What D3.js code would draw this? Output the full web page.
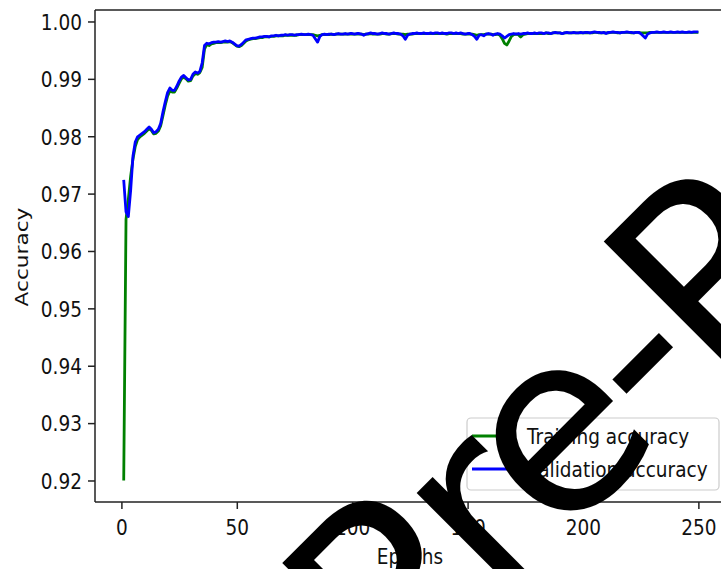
<!DOCTYPE html>
<html>
<head>
<meta charset="utf-8">
<script src="https://cdn.jsdelivr.net/npm/d3@7"></script>
<style>
  html, body { margin: 0; padding: 0; background: #fff; }
  svg { display: block; }
  text { font-family: "DejaVu Sans", sans-serif; }
</style>
</head>
<body>
<svg id="chart" width="721" height="569"></svg>
<script>
// ---------------- DATA ----------------
const xTicks = [0, 50, 100, 150, 200, 250];
const yTicks = [0.92, 0.93, 0.94, 0.95, 0.96, 0.97, 0.98, 0.99, 1.00];
const seriesNames = ["Training accuracy", "Validation accuracy"];
const xLabel = "Epochs";
const yLabel = "Accuracy";
const watermark = "Pre-Print";

// epochs 1..250
const trainAcc = [
  0.9200, 0.9655, 0.9690, 0.9730, 0.9760, 0.9782, 0.9794, 0.9799, 0.9802, 0.9805,
  0.9809, 0.9813, 0.9810, 0.9804, 0.9805, 0.9809, 0.9818, 0.9836, 0.9854, 0.9870,
  0.9879, 0.9877, 0.9877, 0.9884, 0.9892, 0.9900, 0.9903, 0.9900, 0.9896, 0.9897,
  0.9905, 0.9909, 0.9908, 0.9911, 0.9920, 0.9952, 0.9960, 0.9958, 0.9961, 0.9962,
  0.9963, 0.9963, 0.9963, 0.9964, 0.9964, 0.9964, 0.9965, 0.9963, 0.9960, 0.9957,
  0.9956, 0.9958, 0.9962, 0.9966, 0.9968, 0.9969, 0.9970, 0.9970, 0.9971, 0.9972,
  0.9972, 0.9973, 0.9973, 0.9973, 0.9974, 0.9974, 0.9975, 0.9975, 0.9975, 0.9975,
  0.9976, 0.9976, 0.9976, 0.9976, 0.9976, 0.9976, 0.9977, 0.9977, 0.9977, 0.9977,
  0.9977, 0.9977, 0.9977, 0.9976, 0.9975, 0.9976, 0.9977, 0.9977, 0.9977, 0.9977,
  0.9978, 0.9977, 0.9978, 0.9978, 0.9978, 0.9978, 0.9978, 0.9978, 0.9978, 0.9978,
  0.9978, 0.9978, 0.9978, 0.9978, 0.9977, 0.9978, 0.9978, 0.9979, 0.9978, 0.9978,
  0.9978, 0.9978, 0.9979, 0.9979, 0.9978, 0.9978, 0.9979, 0.9979, 0.9979, 0.9978,
  0.9978, 0.9978, 0.9977, 0.9978, 0.9978, 0.9978, 0.9979, 0.9979, 0.9979, 0.9979,
  0.9979, 0.9979, 0.9979, 0.9979, 0.9979, 0.9979, 0.9979, 0.9979, 0.9979, 0.9979,
  0.9978, 0.9979, 0.9979, 0.9979, 0.9979, 0.9979, 0.9979, 0.9978, 0.9978, 0.9978,
  0.9978, 0.9978, 0.9977, 0.9976, 0.9977, 0.9977, 0.9977, 0.9978, 0.9978, 0.9978,
  0.9977, 0.9977, 0.9978, 0.9976, 0.9970, 0.9962, 0.9959, 0.9966, 0.9974, 0.9977,
  0.9978, 0.9977, 0.9973, 0.9977, 0.9978, 0.9979, 0.9979, 0.9979, 0.9979, 0.9979,
  0.9979, 0.9979, 0.9979, 0.9980, 0.9979, 0.9979, 0.9980, 0.9980, 0.9980, 0.9980,
  0.9979, 0.9980, 0.9980, 0.9980, 0.9980, 0.9980, 0.9980, 0.9980, 0.9980, 0.9980,
  0.9980, 0.9980, 0.9980, 0.9980, 0.9981, 0.9981, 0.9980, 0.9980, 0.9980, 0.9980,
  0.9980, 0.9981, 0.9981, 0.9981, 0.9980, 0.9980, 0.9981, 0.9981, 0.9981, 0.9981,
  0.9980, 0.9980, 0.9981, 0.9981, 0.9980, 0.9980, 0.9980, 0.9980, 0.9981, 0.9981,
  0.9981, 0.9981, 0.9981, 0.9981, 0.9981, 0.9981, 0.9981, 0.9981, 0.9981, 0.9981,
  0.9981, 0.9981, 0.9981, 0.9981, 0.9981, 0.9981, 0.9981, 0.9981, 0.9981, 0.9981
];

const valAcc = [
  0.9724, 0.9668, 0.9660, 0.9705, 0.9765, 0.9790, 0.9799, 0.9802, 0.9805, 0.9808,
  0.9812, 0.9816, 0.9812, 0.9806, 0.9808, 0.9812, 0.9822, 0.9842, 0.9860, 0.9876,
  0.9884, 0.9880, 0.9880, 0.9887, 0.9896, 0.9903, 0.9906, 0.9902, 0.9898, 0.9899,
  0.9908, 0.9912, 0.9910, 0.9913, 0.9928, 0.9958, 0.9962, 0.9961, 0.9963, 0.9964,
  0.9964, 0.9965, 0.9964, 0.9965, 0.9966, 0.9965, 0.9966, 0.9964, 0.9961, 0.9958,
  0.9957, 0.9960, 0.9964, 0.9968, 0.9969, 0.9970, 0.9971, 0.9971, 0.9972, 0.9973,
  0.9973, 0.9974, 0.9974, 0.9973, 0.9975, 0.9975, 0.9976, 0.9975, 0.9976, 0.9976,
  0.9977, 0.9976, 0.9977, 0.9977, 0.9976, 0.9977, 0.9977, 0.9978, 0.9977, 0.9977,
  0.9978, 0.9977, 0.9976, 0.9970, 0.9964, 0.9974, 0.9977, 0.9978, 0.9977, 0.9978,
  0.9978, 0.9977, 0.9978, 0.9979, 0.9978, 0.9978, 0.9979, 0.9978, 0.9979, 0.9979,
  0.9978, 0.9979, 0.9979, 0.9978, 0.9976, 0.9978, 0.9979, 0.9980, 0.9979, 0.9979,
  0.9978, 0.9979, 0.9980, 0.9979, 0.9979, 0.9978, 0.9979, 0.9980, 0.9979, 0.9979,
  0.9978, 0.9975, 0.9969, 0.9976, 0.9978, 0.9979, 0.9979, 0.9980, 0.9979, 0.9979,
  0.9980, 0.9979, 0.9979, 0.9980, 0.9979, 0.9980, 0.9980, 0.9979, 0.9980, 0.9979,
  0.9979, 0.9980, 0.9980, 0.9979, 0.9980, 0.9979, 0.9980, 0.9979, 0.9978, 0.9979,
  0.9979, 0.9977, 0.9974, 0.9969, 0.9976, 0.9977, 0.9975, 0.9978, 0.9979, 0.9978,
  0.9976, 0.9978, 0.9979, 0.9978, 0.9975, 0.9971, 0.9974, 0.9977, 0.9978, 0.9979,
  0.9978, 0.9979, 0.9978, 0.9979, 0.9979, 0.9980, 0.9979, 0.9979, 0.9980, 0.9979,
  0.9980, 0.9980, 0.9979, 0.9980, 0.9980, 0.9979, 0.9980, 0.9981, 0.9980, 0.9980,
  0.9979, 0.9980, 0.9981, 0.9980, 0.9980, 0.9981, 0.9980, 0.9980, 0.9981, 0.9980,
  0.9981, 0.9981, 0.9980, 0.9981, 0.9982, 0.9981, 0.9981, 0.9980, 0.9981, 0.9979,
  0.9981, 0.9981, 0.9982, 0.9981, 0.9981, 0.9980, 0.9981, 0.9981, 0.9982, 0.9981,
  0.9981, 0.9980, 0.9981, 0.9981, 0.9979, 0.9975, 0.9971, 0.9978, 0.9980, 0.9981,
  0.9981, 0.9982, 0.9981, 0.9981, 0.9982, 0.9981, 0.9981, 0.9982, 0.9981, 0.9981,
  0.9982, 0.9981, 0.9982, 0.9981, 0.9981, 0.9982, 0.9981, 0.9982, 0.9982, 0.9982
];

const colors = ["#008000", "#0000ff"];

// ---------------- LAYOUT ----------------
const W = 721, H = 569;
const plot = { left: 95, right: 727, top: 10, bottom: 502 };
const FS = 18.5;       // font size
const VS = 1.17;       // vertical stretch of the source image

const svg = d3.select("#chart");
svg.append("rect").attr("width", W).attr("height", H).attr("fill", "#fff");

const x = d3.scaleLinear().domain([-11.44, 262.4]).range([plot.left, plot.right]);
const y = d3.scaleLinear().domain([0.91625, 1.0020]).range([plot.bottom, plot.top]);

const epochs = trainAcc.map((_, i) => i + 1);

// ---------- lines ----------
const lineGen = d3.line().x(d => x(d[0])).y(d => y(d[1]));
[trainAcc, valAcc].forEach((vals, k) => {
  svg.append("path")
    .datum(epochs.map((e, i) => [e, vals[i]]))
    .attr("d", lineGen)
    .attr("fill", "none")
    .attr("stroke", colors[k])
    .attr("stroke-width", 2.8)
    .attr("stroke-linejoin", "round")
    .attr("stroke-linecap", "butt");
});

// ---------- spines ----------
const spine = svg.append("g").attr("stroke", "#222").attr("stroke-width", 1.5).attr("fill", "none");
spine.append("line").attr("x1", plot.left).attr("x2", plot.left).attr("y1", plot.top).attr("y2", plot.bottom);
spine.append("line").attr("x1", plot.left).attr("x2", plot.right).attr("y1", plot.bottom).attr("y2", plot.bottom);
spine.append("line").attr("x1", plot.left).attr("x2", plot.right).attr("y1", plot.top).attr("y2", plot.top);

// ---------- axes ----------
const yAxis = d3.axisLeft(y).tickValues(yTicks).tickFormat(d3.format(".2f")).tickSize(7).tickPadding(6);
const gy = svg.append("g").attr("transform", `translate(${plot.left},0)`).call(yAxis);
gy.select(".domain").remove();
gy.selectAll(".tick line").attr("stroke", "#222").attr("stroke-width", 1.5);
gy.selectAll(".tick text")
  .attr("font-size", FS).attr("fill", "#111")
  .attr("font-family", "DejaVu Sans")
  .attr("dy", null).attr("y", 0)
  .attr("transform", `translate(0,${0.36 * FS * VS}) scale(1,${VS})`);

const xAxis = d3.axisBottom(x).tickValues(xTicks).tickFormat(d3.format("d")).tickSize(7).tickPadding(6);
const gx = svg.append("g").attr("transform", `translate(0,${plot.bottom})`).call(xAxis);
gx.select(".domain").remove();
gx.selectAll(".tick line").attr("stroke", "#222").attr("stroke-width", 1.5);
gx.selectAll(".tick text")
  .attr("font-size", FS).attr("fill", "#111")
  .attr("font-family", "DejaVu Sans")
  .attr("dy", null).attr("y", 0)
  .attr("transform", `translate(0,33) scale(1,${VS})`);

// ---------- axis labels ----------
svg.append("text")
  .attr("text-anchor", "middle")
  .attr("font-size", FS).attr("fill", "#111")
  .attr("transform", `translate(${x(125)},564) scale(1,${VS})`)
  .text(xLabel);

svg.append("text")
  .attr("text-anchor", "middle")
  .attr("font-size", FS).attr("fill", "#111")
  .attr("transform", `translate(28,257) rotate(-90) scale(${VS},1)`)
  .text(yLabel);

// ---------- legend ----------
const lg = svg.append("g");
lg.append("rect")
  .attr("x", 467).attr("y", 418).attr("width", 252).attr("height", 72)
  .attr("rx", 4).attr("ry", 4)
  .attr("fill", "#fff").attr("fill-opacity", 0.8)
  .attr("stroke", "#cccccc").attr("stroke-width", 1.2);
seriesNames.forEach((name, i) => {
  const cy = 436 + i * 33;
  lg.append("line")
    .attr("x1", 472).attr("x2", 509).attr("y1", cy).attr("y2", cy)
    .attr("stroke", colors[i]).attr("stroke-width", 2.8);
  lg.append("text")
    .attr("font-size", FS).attr("fill", "#111")
    .attr("transform", `translate(527,${cy + 7.5}) scale(1,${VS})`)
    .text(name);
});

// ---------- watermark ----------
svg.append("text")
  .attr("font-family", "Liberation Sans, Arial, sans-serif")
  .attr("font-size", 250)
  .attr("fill", "#000")
  .attr("dx", "11 0 -11 -11 -11 0 0 0 0")
  .attr("transform", "translate(386,717) rotate(-45)")
  .text(watermark);
</script>
</body>
</html>
